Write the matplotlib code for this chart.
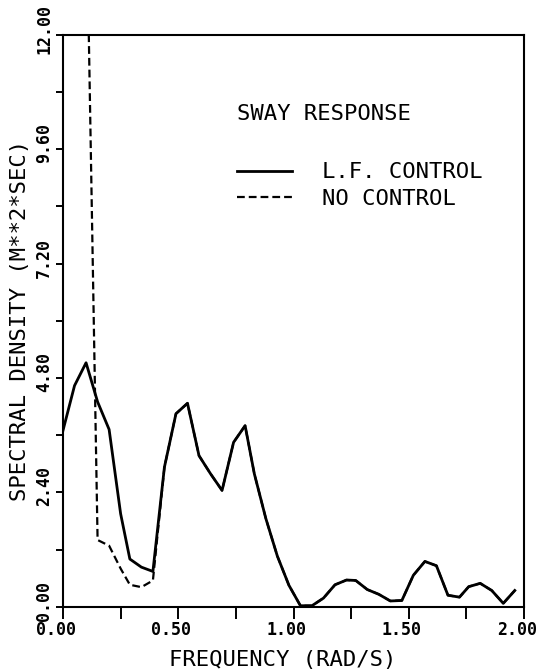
import matplotlib
matplotlib.use('Agg')
import matplotlib.pyplot as plt
import matplotlib.transforms as mtransforms
import numpy as np

# Sway response spectra
freq = [0.00, 0.05, 0.10, 0.15, 0.20, 0.25, 0.29, 0.34, 0.39, 0.44,
        0.49, 0.54, 0.59, 0.64, 0.69, 0.74, 0.79, 0.83, 0.88, 0.93,
        0.98, 1.03, 1.08, 1.13, 1.18, 1.23, 1.27, 1.32, 1.37, 1.42,
        1.47, 1.52, 1.57, 1.62, 1.67, 1.72, 1.76, 1.81, 1.86, 1.91, 1.96]

lf_control = [3.70, 4.64, 5.12, 4.30, 3.72, 1.95, 1.00, 0.83, 0.74, 2.93,
              4.05, 4.27, 3.17, 2.79, 2.44, 3.45, 3.80, 2.79, 1.85, 1.06,
              0.45, 0.02, 0.02, 0.18, 0.46, 0.56, 0.55, 0.36, 0.26, 0.12,
              0.13, 0.66, 0.95, 0.86, 0.24, 0.20, 0.42, 0.49, 0.34, 0.07, 0.34]

no_control = [18.0, 16.5, 15.3, 1.40, 1.28, 0.80, 0.46, 0.41, 0.55, 2.93,
              4.05, 4.27, 3.17, 2.79, 2.44, 3.45, 3.80, 2.79, 1.85, 1.06,
              0.45, 0.02, 0.02, 0.18, 0.46, 0.56, 0.55, 0.36, 0.26, 0.12,
              0.13, 0.66, 0.95, 0.86, 0.24, 0.20, 0.42, 0.49, 0.34, 0.07, 0.34]

xticks = [0.0, 0.5, 1.0, 1.5, 2.0]
yticks = [0.0, 2.4, 4.8, 7.2, 9.6, 12.0]

plt.rcParams['font.family'] = ['DejaVu Sans Mono']

fig = plt.figure(figsize=(5.39, 6.70), dpi=100)
ax = fig.add_axes([0.1169, 0.0945, 0.8553, 0.8533])

ax.plot(freq, lf_control, color='black', lw=2.0, label='L.F. CONTROL')
ax.plot(freq, no_control, color='black', lw=1.6, dashes=(3.5, 1.8), label='NO CONTROL')

ax.set_xlim(0, 2.0)
ax.set_ylim(0, 12.0)

ax.set_xticks(xticks)
ax.set_xticklabels([f'{v:.2f}' for v in xticks], fontsize=12, fontweight='bold')
ax.set_xticks(np.arange(0.25, 2.0, 0.5), minor=True)
ax.set_yticks(yticks)
ax.set_yticklabels([f'{v:.2f}' for v in yticks], fontsize=12, fontweight='bold',
                   rotation=90, va='center')
ax.set_yticks(np.arange(1.2, 12.0, 2.4), minor=True)

ax.tick_params(axis='x', which='both', direction='out', length=8.5, width=1.4, pad=2)
ax.tick_params(axis='y', which='both', direction='out', length=5, width=1.4, pad=2)
for s in ax.spines.values():
    s.set_linewidth(1.5)

# the plotter put its tick labels a little left / above the ticks
shift_x = mtransforms.ScaledTranslation(-7 / 100, 0, fig.dpi_scale_trans)
for lab in ax.get_xticklabels():
    lab.set_transform(lab.get_transform() + shift_x)
shift_y = mtransforms.ScaledTranslation(0, 6 / 100, fig.dpi_scale_trans)
for lab in ax.get_yticklabels():
    lab.set_transform(lab.get_transform() + shift_y)

ax.set_xlabel('FREQUENCY (RAD/S)', fontsize=16, labelpad=5)
ax.set_ylabel('SPECTRAL DENSITY (M**2*SEC)', fontsize=16, labelpad=4)
ax.xaxis.set_label_coords(0.477, -0.075)

ax.text(0.377, 0.862, 'SWAY RESPONSE', transform=ax.transAxes, fontsize=16,
        ha='left', va='center')
ax.legend(loc='center left', bbox_to_anchor=(0.377, 0.7365), frameon=False,
          fontsize=16, handlelength=2.5, handletextpad=1.35, labelspacing=0.3,
          borderpad=0, borderaxespad=0)

fig.savefig('out.png', dpi=100)
